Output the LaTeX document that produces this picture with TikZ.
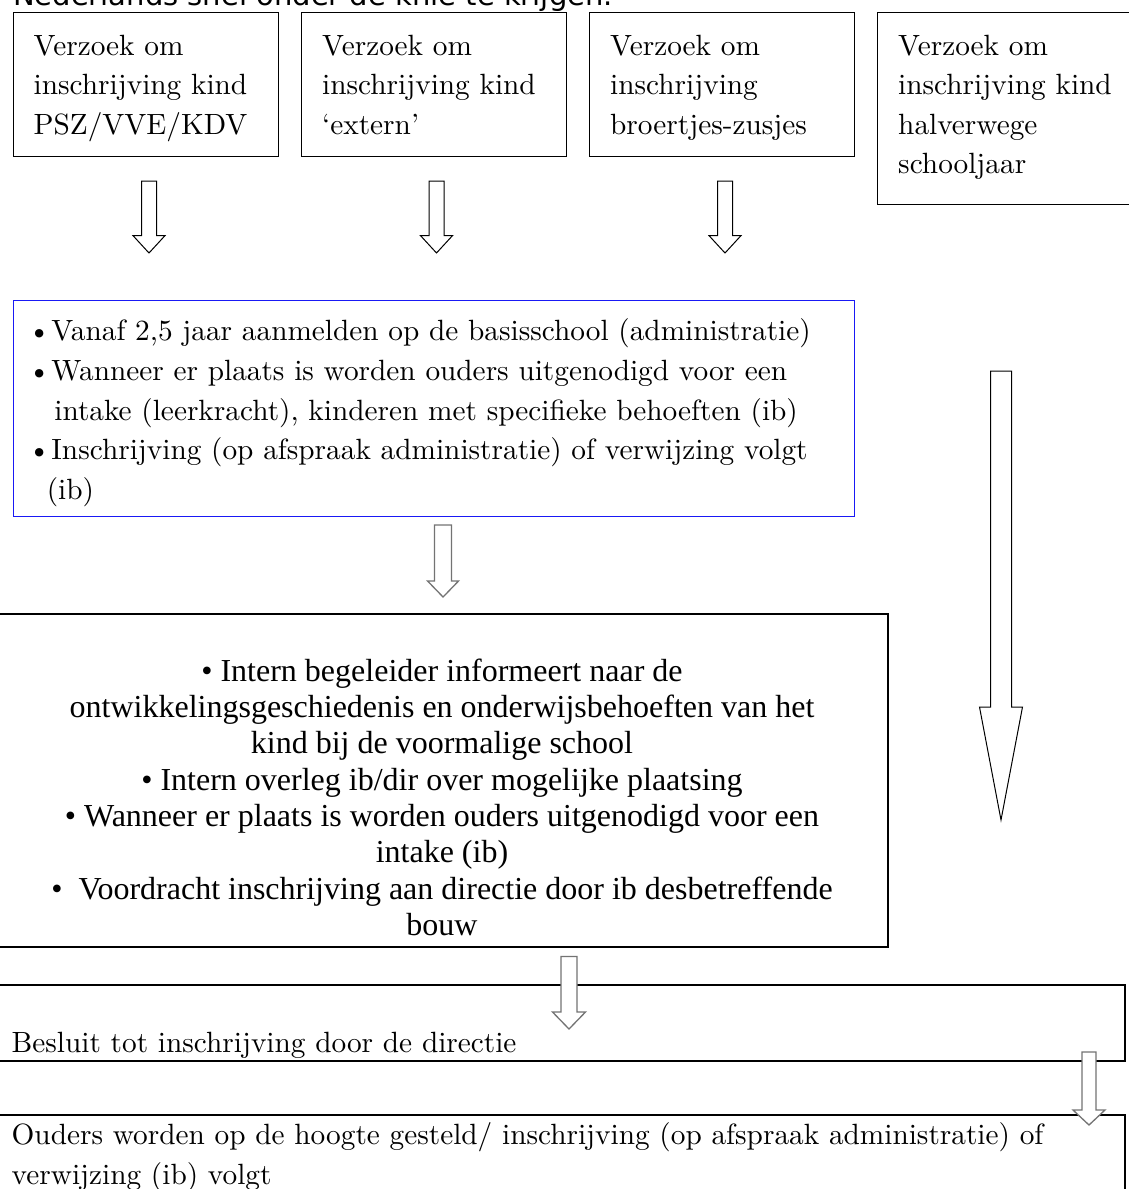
\documentclass[tikz,border=0pt]{standalone}
\usepackage{fontspec}
\newfontfamily\timesfnt{Liberation Serif}
\newfontfamily\sansfnt{DejaVu Sans}
\newfontfamily\palfnt{lmroman10-regular}[Extension=.otf, Ligatures=TeX]
\usetikzlibrary{calc}
\definecolor{frameblue}{RGB}{25,25,245}
\newcommand\firstln[1]{\rule{0pt}{#1}}
\newcommand\bul{\makebox[15.6pt][l]{\hspace*{-8pt}\textbullet}}

\begin{document}
\begin{tikzpicture}[x=1pt, y=-1pt,
  box/.style={draw, line width=1pt, inner sep=0pt, anchor=north west},
  thickbox/.style={box, line width=2pt},
  txt/.style={inner sep=0pt, align=left, anchor=north west, font=\palfnt\fontsize{29.3}{39.5}\selectfont},
  blockarrow/.style n args={3}{draw, fill=white, line width=1pt, to path={let \p1=(\tikztostart), \p2=(\tikztotarget) in
    (\x1-#1,\y1) -- (\x1-#1,\y2+#3) -- (\x1-#2,\y2+#3) -- (\x2,\y2) -- (\x1+#2,\y2+#3) -- (\x1+#1,\y2+#3) -- (\x1+#1,\y1) -- cycle}},
  greyarrow/.style n args={3}{blockarrow={#1}{#2}{#3}, draw=black!55, line width=1.3pt}]
  \useasboundingbox (0,0) rectangle (1129,1189);
  \clip (0,0) rectangle (1129,1189);

  % intro line, cut off at the top
  \node[inner sep=0pt, anchor=base west, font=\sansfnt\fontsize{29}{32}\selectfont] (kop) at (13,5.5) {Nederlands snel onder de knie te krijgen.};

  % request boxes
  \node[box, minimum width=265, minimum height=143.7] (psz) at (12.5,12.3) {};
  \node[box, minimum width=265, minimum height=143.7] (extern) at (301,12.3) {};
  \node[box, minimum width=264.5, minimum height=143.7] (brzus) at (589,12.3) {};
  \node[box, minimum width=280, minimum height=191.2] (halfjr) at (877,12.3) {};
  \node[txt] (psztxt) at ([xshift=21,yshift=-20.7]psz.north west) {\firstln{22pt}Verzoek om\\inschrijving kind\\PSZ/VVE/KDV};
  \node[txt] (externtxt) at ([xshift=21,yshift=-20.7]extern.north west) {\firstln{22pt}Verzoek om\\inschrijving kind\\`extern'};
  \node[txt] (brzustxt) at ([xshift=21,yshift=-20.7]brzus.north west) {\firstln{22pt}Verzoek om\\inschrijving\\broertjes-zusjes};
  \node[txt] (halfjrtxt) at ([xshift=21,yshift=-20.7]halfjr.north west) {\firstln{22pt}Verzoek om\\inschrijving kind\\halverwege\\schooljaar};

  % aanmelding
  \node[box, draw=frameblue, minimum width=840.9, minimum height=215.6] (aanm) at (12.6,300.4) {};
  \node[txt, font=\palfnt\fontsize{29.3}{39.7}\selectfont] (aanmtxt) at ([xshift=23,yshift=-18.2]aanm.north west) {\firstln{22pt}\bul Vanaf 2,5 jaar aanmelden op de basisschool (administratie)\\
    \bul Wanneer er plaats is worden ouders uitgenodigd voor een\\
    \hspace*{18.6pt}intake (leerkracht), kinderen met specifieke behoeften (ib)\\
    \bul Inschrijving (op afspraak administratie) of verwijzing volgt\\
    \hspace*{11pt}(ib)};

  % intern traject
  \node[thickbox, minimum width=892, minimum height=333] (intern) at (-5,613) {};
  \node[txt, align=center, anchor=north, font=\timesfnt\fontsize{32}{36.3}\selectfont] (interntxt) at ([yshift=-44]intern.north) {\firstln{24pt}\textbullet\ Intern begeleider informeert naar de\\
    ontwikkelingsgeschiedenis en onderwijsbehoeften van het\\
    kind bij de voormalige school\\
    \textbullet\ Intern overleg ib/dir over mogelijke plaatsing\\
    \textbullet\ Wanneer er plaats is worden ouders uitgenodigd voor een\\
    intake (ib)\\
    \textbullet\hspace{16pt}Voordracht inschrijving aan directie door ib desbetreffende\\
    bouw};

  % besluit en vervolg
  \node[thickbox, minimum width=1129, minimum height=76] (besluit) at (-5,984) {};
  \node[txt, anchor=base west] (besluittxt) at ([xshift=16.5,yshift=10]besluit.south west) {Besluit tot inschrijving door de directie};
  \node[thickbox, minimum width=1129, minimum height=150] (ouders) at (-5,1114) {};
  \node[txt, font=\palfnt\fontsize{29.3}{40}\selectfont] (ouderstxt) at ([xshift=16.5,yshift=-8]ouders.north west) {\firstln{22pt}Ouders worden op de hoogte gesteld/ inschrijving (op afspraak administratie) of\\verwijzing (ib) volgt};

  % arrows
  \foreach \b/\dx in {psz/3.5, extern/2.5, brzus/3.25}
    \draw[blockarrow={7.5pt}{16pt}{17.4pt}] ([xshift=\dx,yshift=-24]\b.south) to ([xshift=\dx,yshift=-96]\b.south);
  \draw[blockarrow={10.5pt}{21.5pt}{113pt}] ([xshift=-16.5,yshift=-166.5]halfjr.south) to ([xshift=-16.5,yshift=-615.5]halfjr.south);
  \draw[greyarrow={8.5pt}{15.5pt}{16pt}] ([xshift=9.5,yshift=-8]aanm.south) to ([xshift=9.5,yshift=-80]aanm.south);
  \draw[greyarrow={8pt}{16.5pt}{17pt}] ([xshift=127,yshift=-8.5]intern.south) to ([xshift=127,yshift=-81]intern.south);
  \draw[greyarrow={7pt}{16pt}{15pt}] ([xshift=528.5,yshift=10]besluit.south) to ([xshift=528.5,yshift=-63]besluit.south);
\end{tikzpicture}
\end{document}
